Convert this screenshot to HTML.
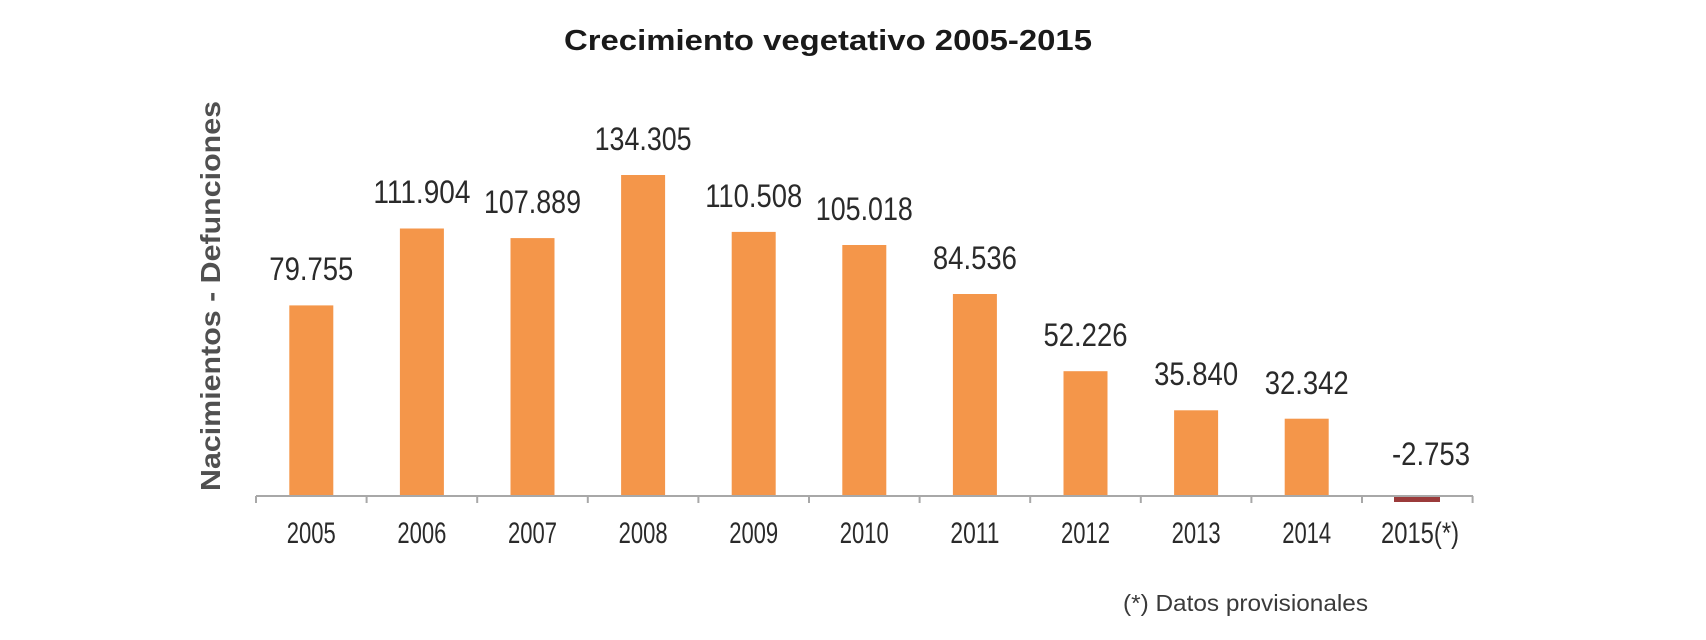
<!DOCTYPE html>
<html><head><meta charset="utf-8"><style>
html,body{margin:0;padding:0;background:#fff;}
svg{display:block;}
text{font-family:"Liberation Sans",Arial,sans-serif;}
</style></head><body>
<svg width="1706" height="640" viewBox="0 0 1706 640" xmlns="http://www.w3.org/2000/svg">
<rect width="1706" height="640" fill="#fff"/>
<text x="828" y="50" text-anchor="middle" font-size="29" font-weight="bold" fill="#1a1a1a" textLength="528" lengthAdjust="spacingAndGlyphs">Crecimiento vegetativo 2005-2015</text>
<text transform="translate(220,296) rotate(-90)" text-anchor="middle" font-size="28" font-weight="bold" fill="#505050" textLength="390" lengthAdjust="spacingAndGlyphs">Nacimientos - Defunciones</text>
<g fill="#f4964a">
<rect x="289.3" y="305.4" width="44" height="190.6"/>
<rect x="399.9" y="228.5" width="44" height="267.5"/>
<rect x="510.5" y="238.1" width="44" height="257.9"/>
<rect x="621.1" y="175" width="44" height="321"/>
<rect x="731.7" y="231.9" width="44" height="264.1"/>
<rect x="842.3" y="245" width="44" height="251"/>
<rect x="952.9" y="294" width="44" height="202"/>
<rect x="1063.5" y="371.2" width="44" height="124.8"/>
<rect x="1174.1" y="410.3" width="44" height="85.7"/>
<rect x="1284.7" y="418.7" width="44" height="77.3"/>
</g>
<rect x="1394" y="496" width="46" height="6" fill="#9b3b3b"/>
<g stroke="#a8a8a8" stroke-width="2">
<line x1="256" y1="496" x2="1473" y2="496"/>
<line x1="256" y1="496" x2="256" y2="503"/><line x1="366.6" y1="496" x2="366.6" y2="503"/><line x1="477.2" y1="496" x2="477.2" y2="503"/><line x1="587.8" y1="496" x2="587.8" y2="503"/><line x1="698.4" y1="496" x2="698.4" y2="503"/><line x1="809" y1="496" x2="809" y2="503"/><line x1="919.6" y1="496" x2="919.6" y2="503"/><line x1="1030.2" y1="496" x2="1030.2" y2="503"/><line x1="1140.8" y1="496" x2="1140.8" y2="503"/><line x1="1251.4" y1="496" x2="1251.4" y2="503"/><line x1="1362" y1="496" x2="1362" y2="503"/><line x1="1472.6" y1="496" x2="1472.6" y2="503"/>
</g>
<g font-size="32" fill="#2a2a2a" text-anchor="middle">
<text x="311.3" y="280" textLength="84" lengthAdjust="spacingAndGlyphs">79.755</text>
<text x="421.9" y="203" textLength="97" lengthAdjust="spacingAndGlyphs">111.904</text>
<text x="532.5" y="213" textLength="97" lengthAdjust="spacingAndGlyphs">107.889</text>
<text x="643.1" y="150" textLength="97" lengthAdjust="spacingAndGlyphs">134.305</text>
<text x="753.7" y="207" textLength="97" lengthAdjust="spacingAndGlyphs">110.508</text>
<text x="864.3" y="220" textLength="97" lengthAdjust="spacingAndGlyphs">105.018</text>
<text x="974.9" y="269" textLength="84" lengthAdjust="spacingAndGlyphs">84.536</text>
<text x="1085.5" y="346" textLength="84" lengthAdjust="spacingAndGlyphs">52.226</text>
<text x="1196.1" y="385" textLength="84" lengthAdjust="spacingAndGlyphs">35.840</text>
<text x="1306.7" y="394" textLength="84" lengthAdjust="spacingAndGlyphs">32.342</text>
<text x="1431" y="465" textLength="78" lengthAdjust="spacingAndGlyphs">-2.753</text>
</g>
<g font-size="30" fill="#2a2a2a" text-anchor="middle">
<text x="311.3" y="543" textLength="49" lengthAdjust="spacingAndGlyphs">2005</text>
<text x="421.9" y="543" textLength="49" lengthAdjust="spacingAndGlyphs">2006</text>
<text x="532.5" y="543" textLength="49" lengthAdjust="spacingAndGlyphs">2007</text>
<text x="643.1" y="543" textLength="49" lengthAdjust="spacingAndGlyphs">2008</text>
<text x="753.7" y="543" textLength="49" lengthAdjust="spacingAndGlyphs">2009</text>
<text x="864.3" y="543" textLength="49" lengthAdjust="spacingAndGlyphs">2010</text>
<text x="974.9" y="543" textLength="49" lengthAdjust="spacingAndGlyphs">2011</text>
<text x="1085.5" y="543" textLength="49" lengthAdjust="spacingAndGlyphs">2012</text>
<text x="1196.1" y="543" textLength="49" lengthAdjust="spacingAndGlyphs">2013</text>
<text x="1306.7" y="543" textLength="49" lengthAdjust="spacingAndGlyphs">2014</text>
<text x="1420" y="543" textLength="78" lengthAdjust="spacingAndGlyphs">2015(*)</text>
</g>
<text x="1123" y="611" font-size="23" fill="#3a3a3a" textLength="245" lengthAdjust="spacingAndGlyphs">(*)  Datos provisionales</text>
</svg>
</body></html>
